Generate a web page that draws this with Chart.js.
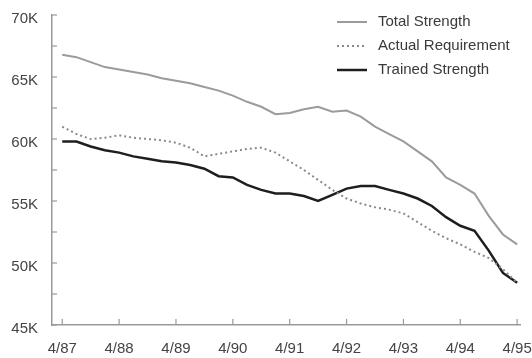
<!DOCTYPE html>
<html>
<head>
<meta charset="utf-8">
<script src="https://cdn.jsdelivr.net/npm/chart.js@4"></script>
<style>
  html, body { margin: 0; padding: 0; background: #fff; }
  #wrap { width: 532px; height: 358px; }
</style>
</head>
<body>
<div id="wrap"><canvas id="myChart" width="532" height="358"></canvas></div>
<script>
// Data (thousands), quarterly from 4/87 to 4/95
var quarters = [87, 87.25, 87.5, 87.75, 88, 88.25, 88.5, 88.75, 89, 89.25, 89.5, 89.75,
                90, 90.25, 90.5, 90.75, 91, 91.25, 91.5, 91.75, 92, 92.25, 92.5, 92.75,
                93, 93.25, 93.5, 93.75, 94, 94.25, 94.5, 94.75, 95];
var totalStrength = [66.8, 66.6, 66.2, 65.8, 65.6, 65.4, 65.2, 64.9, 64.7, 64.5, 64.2, 63.9,
                     63.5, 63.0, 62.6, 62.0, 62.1, 62.4, 62.6, 62.2, 62.3, 61.8, 61.0, 60.4,
                     59.8, 59.0, 58.2, 56.9, 56.3, 55.6, 53.8, 52.3, 51.5];
var actualRequirement = [61.0, 60.4, 60.0, 60.1, 60.3, 60.1, 60.0, 59.9, 59.7, 59.3, 58.6, 58.8,
                         59.0, 59.2, 59.3, 58.9, 58.2, 57.5, 56.7, 55.9, 55.2, 54.8, 54.5, 54.3,
                         54.0, 53.3, 52.6, 52.0, 51.5, 50.9, 50.4, 49.5, 48.4];
var trainedStrength = [59.8, 59.8, 59.4, 59.1, 58.9, 58.6, 58.4, 58.2, 58.1, 57.9, 57.6, 57.0,
                       56.9, 56.3, 55.9, 55.6, 55.6, 55.4, 55.0, 55.5, 56.0, 56.2, 56.2, 55.9,
                       55.6, 55.2, 54.6, 53.7, 53.0, 52.6, 51.0, 49.2, 48.4];
var tickYears = [87, 88, 89, 90, 91, 92, 93, 94, 95];
var tickLabels = ['4/87', '4/88', '4/89', '4/90', '4/91', '4/92', '4/93', '4/94', '4/95'];
var yMinorTicks = [45, 47.5, 50, 52.5, 55, 57.5, 60, 62.5, 65, 67.5, 70];

function toPoints(vals) {
    return quarters.map(function (q, i) { return { x: q, y: vals[i] }; });
}

var FONT = { family: '"Liberation Sans", Arial, sans-serif', size: 15 };
var AXIS = '#9a9a9a';

// inward tick marks + legend drawn in chart area
var extras = {
    id: 'extras',
    afterDraw: function (chart) {
        var ctx = chart.ctx;
        var xs = chart.scales.x, ys = chart.scales.y;
        var area = chart.chartArea;
        ctx.save();
        ctx.strokeStyle = AXIS;
        ctx.lineWidth = 1.2;
        yMinorTicks.forEach(function (v) {
            var py = ys.getPixelForValue(v);
            ctx.beginPath();
            ctx.moveTo(area.left, py);
            ctx.lineTo(area.left + 5, py);
            ctx.stroke();
        });
        tickYears.forEach(function (v) {
            var px = xs.getPixelForValue(v);
            ctx.beginPath();
            ctx.moveTo(px, area.bottom);
            ctx.lineTo(px, area.bottom - 6);
            ctx.stroke();
        });

        // legend
        var rows = [22, 46, 70];
        ctx.font = FONT.size + 'px ' + FONT.family;
        ctx.textBaseline = 'middle';
        ctx.fillStyle = '#3a3a3a';
        chart.data.datasets.forEach(function (ds, i) {
            ctx.beginPath();
            ctx.strokeStyle = ds.borderColor;
            ctx.lineWidth = ds.borderWidth;
            ctx.setLineDash(ds.borderDash || []);
            ctx.moveTo(337, rows[i]);
            ctx.lineTo(367, rows[i]);
            ctx.stroke();
            ctx.setLineDash([]);
            ctx.fillText(ds.label, 378, rows[i]);
        });
        ctx.restore();
    }
};

var ctx = document.getElementById('myChart').getContext('2d');
var chart = new Chart(ctx, {
    type: 'line',
    data: {
        datasets: [{
            label: 'Total Strength',
            data: toPoints(totalStrength),
            borderColor: '#9b9b9b',
            borderWidth: 2,
            pointRadius: 0,
            tension: 0
        }, {
            label: 'Actual Requirement',
            data: toPoints(actualRequirement),
            borderColor: '#8a8a8a',
            borderWidth: 2,
            borderDash: [2, 3],
            pointRadius: 0,
            tension: 0
        }, {
            label: 'Trained Strength',
            data: toPoints(trainedStrength),
            borderColor: '#1e1e1e',
            borderWidth: 2.5,
            pointRadius: 0,
            tension: 0
        }]
    },
    options: {
        responsive: false,
        animation: false,
        layout: { padding: { top: 15, right: 12, left: 0, bottom: 0 } },
        plugins: { legend: { display: false }, tooltip: { enabled: false } },
        scales: {
            x: {
                type: 'linear',
                min: 86.82,
                max: 95.05,
                afterBuildTicks: function (scale) {
                    scale.ticks = tickYears.map(function (v) { return { value: v }; });
                },
                afterFit: function (scale) {
                    scale.height = 33;
                    scale.paddingLeft = 0;
                    scale.paddingRight = 0;
                },
                grid: { display: false, drawTicks: false },
                border: { color: AXIS, width: 1.5 },
                ticks: {
                    font: FONT,
                    color: '#444',
                    padding: 15,
                    maxRotation: 0,
                    autoSkip: false,
                    callback: function (v) {
                        var i = tickYears.indexOf(v);
                        return i >= 0 ? tickLabels[i] : '';
                    }
                }
            },
            y: {
                min: 45,
                max: 70,
                afterFit: function (scale) {
                    scale.width = 52;
                    scale.paddingTop = 0;
                    scale.paddingBottom = 0;
                },
                grid: { display: false, drawTicks: false },
                border: { color: AXIS, width: 1.5 },
                ticks: {
                    stepSize: 5,
                    font: FONT,
                    color: '#444',
                    padding: 14,
                    labelOffset: 4,
                    callback: function (v) { return v + 'K'; }
                }
            }
        }
    },
    plugins: [extras]
});
</script>
</body>
</html>
